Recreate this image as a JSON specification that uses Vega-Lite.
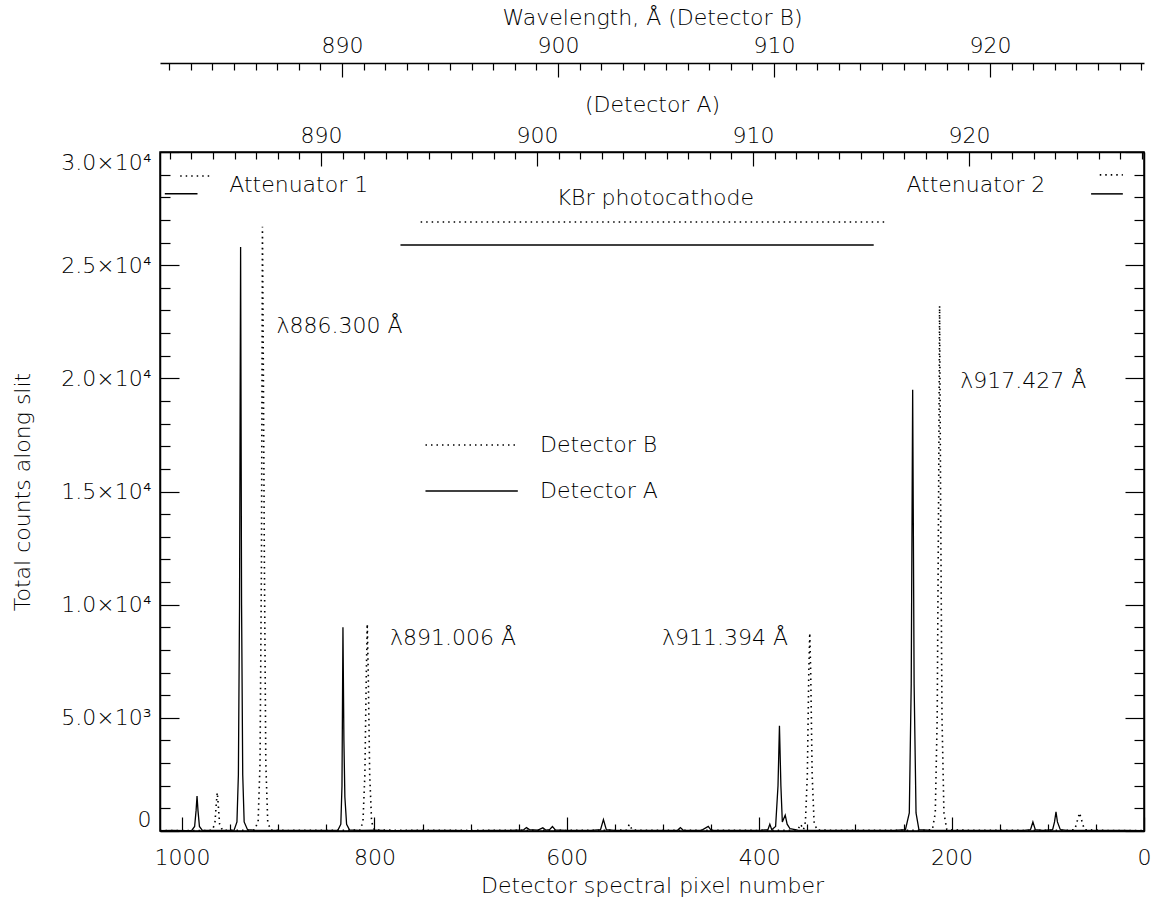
{
  "$schema": "https://vega.github.io/schema/vega-lite/v6.json",
  "width": 984,
  "height": 679,
  "autosize": "none",
  "padding": {"left": 160, "top": 152, "right": 18, "bottom": 74},
  "background": "white",
  "config": {
    "view": {"stroke": "black", "strokeWidth": 1.5},
    "font": "DejaVu Sans",
    "axis": {
      "domainColor": "black", "tickColor": "black", "labelColor": "black", "titleColor": "black",
      "labelFont": "DejaVu Sans", "titleFont": "DejaVu Sans", "labelFontSize": 22, "titleFontSize": 22,
      "labelFontWeight": 200, "titleFontWeight": 200, "grid": false, "domainWidth": 1.5, "tickWidth": 1.2,
      "labelOverlap": false, "labelBound": false
    }
  },
  "datasets": {
    "A": [
      {"p":1023,"c":20},{"p":1010,"c":25},{"p":995,"c":20},{"p":990,"c":30},{"p":987,"c":200},{"p":985.5,"c":900},{"p":984.5,"c":1550},{"p":983.5,"c":900},{"p":982,"c":200},{"p":979,"c":30},
      {"p":960,"c":25},{"p":950,"c":30},{"p":946,"c":40},{"p":943,"c":400},{"p":941.5,"c":2500},{"p":940.3,"c":10000},{"p":939.2,"c":25800},{"p":938.2,"c":10000},{"p":937,"c":2500},{"p":935.5,"c":400},{"p":932,"c":60},
      {"p":925,"c":40},{"p":910,"c":30},{"p":890,"c":25},{"p":870,"c":25},{"p":850,"c":30},{"p":838,"c":40},{"p":835,"c":300},{"p":833.8,"c":2000},{"p":832.8,"c":9000},{"p":831.8,"c":4000},{"p":830.8,"c":1500},{"p":829,"c":300},{"p":826,"c":50},
      {"p":815,"c":30},{"p":800,"c":35},{"p":780,"c":20},{"p":760,"c":25},{"p":740,"c":30},{"p":720,"c":30},{"p":700,"c":20},{"p":680,"c":30},{"p":660,"c":25},
      {"p":645,"c":50},{"p":642,"c":150},{"p":639,"c":60},{"p":630,"c":40},{"p":625,"c":140},{"p":622,"c":40},{"p":618,"c":60},{"p":615,"c":200},{"p":612,"c":50},
      {"p":600,"c":30},{"p":590,"c":30},{"p":575,"c":30},{"p":565,"c":60},{"p":562,"c":500},{"p":559,"c":60},{"p":550,"c":30},{"p":540,"c":30},{"p":520,"c":25},{"p":500,"c":30},
      {"p":485,"c":30},{"p":482,"c":150},{"p":479,"c":30},{"p":460,"c":30},{"p":453,"c":200},{"p":450,"c":30},{"p":430,"c":30},{"p":410,"c":30},
      {"p":398,"c":40},{"p":391,"c":60},{"p":389,"c":300},{"p":387,"c":60},{"p":383,"c":200},{"p":380.5,"c":2000},{"p":379,"c":4650},{"p":377.5,"c":2000},{"p":376,"c":400},{"p":373,"c":700},{"p":371,"c":300},{"p":368,"c":100},{"p":360,"c":40},
      {"p":340,"c":30},{"p":320,"c":25},{"p":300,"c":30},{"p":280,"c":25},{"p":260,"c":30},{"p":248,"c":60},{"p":244,"c":800},{"p":242,"c":6500},{"p":240.5,"c":19500},{"p":239,"c":6500},{"p":237,"c":800},{"p":234,"c":60},
      {"p":220,"c":30},{"p":200,"c":25},{"p":180,"c":30},{"p":160,"c":30},{"p":140,"c":25},{"p":125,"c":30},{"p":118,"c":60},{"p":115.5,"c":400},{"p":113,"c":60},{"p":105,"c":30},
      {"p":95,"c":60},{"p":93,"c":400},{"p":91.5,"c":850},{"p":90,"c":400},{"p":87,"c":60},{"p":80,"c":30},{"p":60,"c":25},{"p":40,"c":30},{"p":20,"c":25},{"p":0,"c":20}
    ],
    "B": [
      {"p":1023,"c":20},{"p":1000,"c":20},{"p":975,"c":20},{"p":969,"c":30},{"p":966,"c":300},{"p":964.5,"c":1200},{"p":963.5,"c":1700},{"p":962.5,"c":1200},{"p":961,"c":300},{"p":958,"c":30},
      {"p":940,"c":25},{"p":925,"c":40},{"p":921,"c":400},{"p":919,"c":3000},{"p":917.5,"c":12000},{"p":916.5,"c":26700},{"p":915.5,"c":20000},{"p":914.5,"c":12000},{"p":913,"c":3000},{"p":911,"c":400},{"p":908,"c":40},
      {"p":890,"c":25},{"p":850,"c":30},{"p":815,"c":40},{"p":812,"c":400},{"p":810,"c":2500},{"p":808.5,"c":7000},{"p":807.5,"c":9150},{"p":806.5,"c":7000},{"p":805,"c":2500},{"p":803,"c":400},{"p":800,"c":40},
      {"p":750,"c":30},{"p":700,"c":25},{"p":650,"c":30},{"p":600,"c":25},{"p":560,"c":30},{"p":538,"c":40},{"p":535,"c":300},{"p":532,"c":40},{"p":500,"c":25},{"p":450,"c":30},{"p":400,"c":25},
      {"p":370,"c":30},{"p":360,"c":50},{"p":357,"c":300},{"p":354,"c":60},{"p":352,"c":400},{"p":350,"c":2500},{"p":348.5,"c":7000},{"p":347.5,"c":8750},{"p":346.5,"c":7000},{"p":345,"c":2500},{"p":343,"c":400},{"p":340,"c":40},
      {"p":300,"c":25},{"p":260,"c":30},{"p":230,"c":30},{"p":220,"c":60},{"p":217,"c":800},{"p":215,"c":5000},{"p":213.5,"c":15000},{"p":212.5,"c":23200},{"p":211.5,"c":15000},{"p":210,"c":5000},{"p":208,"c":800},{"p":205,"c":60},
      {"p":180,"c":30},{"p":120,"c":25},{"p":80,"c":30},{"p":72,"c":60},{"p":69,"c":500},{"p":67,"c":800},{"p":65,"c":500},{"p":62,"c":60},{"p":40,"c":25},{"p":0,"c":20}
    ],
    "segA": [
      {"p":1018,"p2":984,"c":28150},
      {"p":55,"p2":22,"c":28150},
      {"p":773,"p2":281,"c":25895},
      {"p":747,"p2":651,"c":15024}
    ],
    "segB": [
      {"p":1002,"p2":971,"c":28940},
      {"p":46,"p2":22,"c":28990},
      {"p":752,"p2":269,"c":26910},
      {"p":747,"p2":651,"c":17057}
    ],
    "labelsL": [
      {"p":951,"c":28550,"t":"Attenuator 1"},
      {"p":247,"c":28550,"t":"Attenuator 2"},
      {"p":902,"c":22315,"t":"λ886.300 Å"},
      {"p":784,"c":8530,"t":"λ891.006 Å"},
      {"p":501,"c":8530,"t":"λ911.394 Å"},
      {"p":191,"c":19885,"t":"λ917.427 Å"},
      {"p":628,"c":17057,"t":"Detector B"},
      {"p":628,"c":15024,"t":"Detector A"}
    ],
    "labelsC": [
      {"p":508,"c":27970,"t":"KBr photocathode"}
    ]
  },
  "resolve": {"scale": {"x": "independent", "y": "independent"}, "axis": {"x": "independent", "y": "independent"}},
  "layer": [
    {
      "encoding": {
        "x": {"field": "p", "type": "quantitative",
          "scale": {"domain": [1023, 0], "nice": false, "zero": false},
          "axis": {"orient": "bottom", "title": "Detector spectral pixel number",
            "values": [0,50,100,150,200,250,300,350,400,450,500,550,600,650,700,750,800,850,900,950,1000],
            "labelExpr": "datum.value % 200 === 0 ? format(datum.value, 'd') : ''",
            "labelFlush": false, "labelPadding": 30, "titlePadding": 0,
            "tickSize": {"condition": {"test": "datum.value % 200 === 0", "value": -14}, "value": -7}}},
        "y": {"field": "c", "type": "quantitative",
          "scale": {"domain": [0, 30000], "nice": false, "zero": false},
          "axis": {"orient": "left", "title": "Total counts along slit",
            "values": [0,1000,2000,3000,4000,5000,6000,7000,8000,9000,10000,11000,12000,13000,14000,15000,16000,17000,18000,19000,20000,21000,22000,23000,24000,25000,26000,27000,28000,29000,30000],
            "labelExpr": "datum.value === 0 ? '0' : (datum.value % 5000 === 0 ? (datum.value >= 10000 ? format(datum.value / 10000, '.1f') + '×10⁴' : format(datum.value / 1000, '.1f') + '×10³') : '')",
            "labelFlush": true, "labelFlushOffset": 0, "labelPadding": 28, "titlePadding": 26,
            "tickSize": {"condition": {"test": "datum.value % 5000 === 0", "value": -19}, "value": -10}}}
      },
      "layer": [
        {"data": {"name": "A"}, "mark": {"type": "line", "color": "black", "strokeWidth": 1.3}},
        {"data": {"name": "B"}, "mark": {"type": "line", "color": "black", "strokeWidth": 1.6, "strokeDash": [1.5, 4]}},
        {"data": {"name": "segA"}, "mark": {"type": "rule", "color": "black", "strokeWidth": 1.5}, "encoding": {"x2": {"field": "p2"}}},
        {"data": {"name": "segB"}, "mark": {"type": "rule", "color": "black", "strokeWidth": 1.6, "strokeDash": [1.5, 4]}, "encoding": {"x2": {"field": "p2"}}},
        {"data": {"name": "labelsL"}, "mark": {"type": "text", "align": "left", "baseline": "middle", "fontSize": 22, "font": "DejaVu Sans", "fontWeight": 200, "color": "black"}, "encoding": {"text": {"field": "t"}}},
        {"data": {"name": "labelsC"}, "mark": {"type": "text", "align": "center", "baseline": "middle", "fontSize": 22, "font": "DejaVu Sans", "fontWeight": 200, "color": "black"}, "encoding": {"text": {"field": "t"}}}
      ]
    },
    {
      "data": {"values": [{"c": 0}, {"c": 30000}]},
      "mark": {"type": "point", "opacity": 0},
      "encoding": {
        "y": {"field": "c", "type": "quantitative",
          "scale": {"domain": [0, 30000], "nice": false, "zero": false},
          "axis": {"orient": "right", "title": null, "labels": false,
            "values": [0,1000,2000,3000,4000,5000,6000,7000,8000,9000,10000,11000,12000,13000,14000,15000,16000,17000,18000,19000,20000,21000,22000,23000,24000,25000,26000,27000,28000,29000,30000],
            "tickSize": {"condition": {"test": "datum.value % 5000 === 0", "value": -19}, "value": -10}}}
      }
    },
    {
      "data": {"values": [{"w": 882.55}, {"w": 928.1}]},
      "mark": {"type": "point", "opacity": 0},
      "encoding": {
        "x": {"field": "w", "type": "quantitative",
          "scale": {"domain": [882.55, 928.1], "nice": false, "zero": false},
          "axis": {"orient": "top", "title": "(Detector A)",
            "values": [883,884,885,886,887,888,889,890,891,892,893,894,895,896,897,898,899,900,901,902,903,904,905,906,907,908,909,910,911,912,913,914,915,916,917,918,919,920,921,922,923,924,925,926,927,928],
            "labelExpr": "datum.value % 10 === 0 ? format(datum.value, 'd') : ''",
            "labelFlush": false, "labelPadding": 19, "titlePadding": 1,
            "tickSize": {"condition": {"test": "datum.value % 10 === 0", "value": -14}, "value": -7}}}
      }
    },
    {
      "data": {"values": [{"v": 881.57}, {"v": 927.13}]},
      "mark": {"type": "point", "opacity": 0},
      "encoding": {
        "x": {"field": "v", "type": "quantitative",
          "scale": {"domain": [881.57, 927.13], "nice": false, "zero": false},
          "axis": {"orient": "top", "offset": 89, "title": "Wavelength, Å (Detector B)",
            "values": [882,883,884,885,886,887,888,889,890,891,892,893,894,895,896,897,898,899,900,901,902,903,904,905,906,907,908,909,910,911,912,913,914,915,916,917,918,919,920,921,922,923,924,925,926,927],
            "labelExpr": "datum.value % 10 === 0 ? format(datum.value, 'd') : ''",
            "labelFlush": false, "labelPadding": 20, "titlePadding": -2,
            "tickSize": {"condition": {"test": "datum.value % 10 === 0", "value": -14}, "value": -7}}}
      }
    }
  ]
}
